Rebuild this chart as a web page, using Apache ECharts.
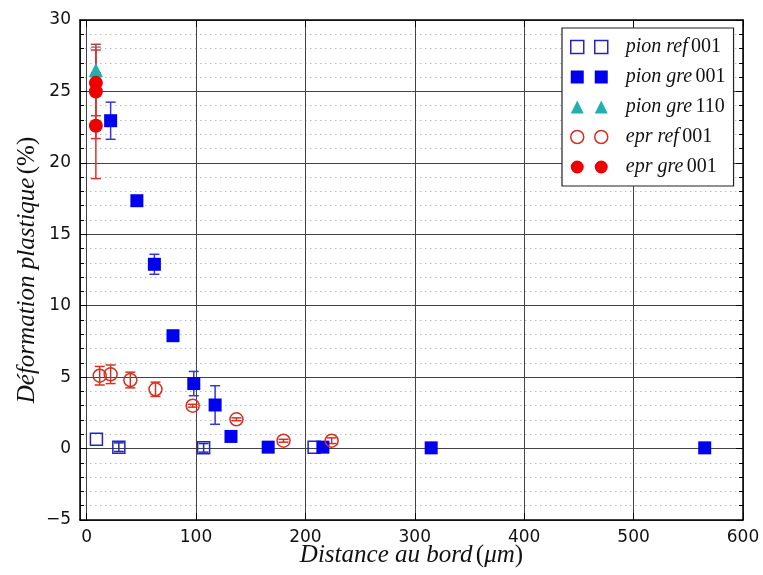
<!DOCTYPE html>
<html>
<head>
<meta charset="utf-8">
<script src="https://cdn.jsdelivr.net/npm/echarts@6/dist/echarts.min.js"></script>
<style>
html,body{margin:0;padding:0;background:#fff;}
#chart{width:763px;height:575px;}
</style>
</head>
<body>
<div id="chart"></div>
<script>
// ---- data ----
const xTicks = [0, 100, 200, 300, 400, 500, 600];
const yTicks = [-5, 0, 5, 10, 15, 20, 25, 30];

const pionRefX = [9, 29.5, 107, 208];
const pionRefY = [0.65, 0.1, 0.05, 0.1];
const pionRefErr = [0, 0.3, 0.3, 0];

const pionGre001X = [22, 46, 62, 79, 98, 117.5, 132, 166, 216, 315, 565];
const pionGre001Y = [22.95, 17.35, 12.9, 7.9, 4.55, 3.05, 0.85, 0.1, 0.1, 0.05, 0.05];
const pionGre001Err = [1.3, 0.2, 0.7, 0.3, 0.85, 1.35, 0.3, 0.2, 0.2, 0, 0];

const pionGre110X = [8.5];
const pionGre110Y = [26.5];
const pionGre110Err = [1.6];

const eprRefX = [12, 22, 40, 63, 97, 137, 180, 224];
const eprRefY = [5.1, 5.2, 4.8, 4.15, 3.0, 2.05, 0.55, 0.55];
const eprRefErr = [0.65, 0.65, 0.55, 0.5, 0.1, 0.1, 0.1, 0.2];

const eprGreX = [8.5, 8.5, 8.5];
const eprGreY = [25.6, 25.0, 22.6];
const eprGreErr = [2.3, 3.3, 3.7];

const seriesNames = [
  ['pion ref', '001'],
  ['pion gre', '001'],
  ['pion gre', '110'],
  ['epr ref', '001'],
  ['epr gre', '001']
];

// ---- helpers ----
function pts(xs, ys) { return xs.map((x, i) => [x, ys[i]]); }
function errPts(xs, ys, es) {
  return xs.map((x, i) => [x, ys[i] - es[i], ys[i] + es[i]]).filter((d, i) => es[i] > 0);
}
function errSeries(data, color, z) {
  return {
    type: 'custom',
    silent: true,
    z: z,
    encode: { x: 0, y: [1, 2] },
    data: data,
    renderItem: function (params, api) {
      const x = api.value(0), lo = api.value(1), hi = api.value(2);
      const p1 = api.coord([x, lo]), p2 = api.coord([x, hi]);
      const w = 5;
      const st = { stroke: color, lineWidth: 1.5 };
      return {
        type: 'group',
        children: [
          { type: 'line', shape: { x1: p1[0], y1: p1[1], x2: p2[0], y2: p2[1] }, style: st },
          { type: 'line', shape: { x1: p1[0] - w, y1: p1[1], x2: p1[0] + w, y2: p1[1] }, style: st },
          { type: 'line', shape: { x1: p2[0] - w, y1: p2[1], x2: p2[0] + w, y2: p2[1] }, style: st }
        ]
      };
    }
  };
}

const blueOpen = '#2424c0';
const blueFill = '#0000f0';
const teal = '#1fb0b0';
const redOpen = '#d83020';
const redFill = '#ee0000';

const sqPath = 'path://M0,0H13V13H0Z M24,0H37V13H24Z';
const triPath = 'path://M6.5,0L13,13H0Z M30.5,0L37,13H24Z';
const circPath = 'path://M0,6.5A6.5,6.5 0 1,0 13,6.5A6.5,6.5 0 1,0 0,6.5Z M24,6.5A6.5,6.5 0 1,0 37,6.5A6.5,6.5 0 1,0 24,6.5Z';

const labelName = n => n[0] + ' ' + n[1];

const chart = echarts.init(document.getElementById('chart'));

const richTitle = {
  i: { fontFamily: 'Liberation Serif', fontStyle: 'italic', fontSize: 25, color: '#111' },
  n: { fontFamily: 'Liberation Serif', fontSize: 25, color: '#111' }
};

const option = {
  animation: false,
  backgroundColor: '#fff',
  grid: { left: 80, right: 20, top: 20, bottom: 55, show: false, containLabel: false, outerBoundsMode: 'none' },
  legend: {
    orient: 'vertical',
    left: 562, top: 28,
    padding: [9, 8, 9, 8],
    itemGap: 10,
    itemWidth: 37, itemHeight: 13,
    backgroundColor: '#fff',
    borderColor: '#222', borderWidth: 1.2, borderRadius: 0,
    selectedMode: false,
    data: [
      { name: labelName(seriesNames[0]), icon: sqPath, itemStyle: { color: 'rgba(0,0,0,0)', borderColor: blueOpen, borderWidth: 1.5 } },
      { name: labelName(seriesNames[1]), icon: sqPath, itemStyle: { color: blueFill, borderWidth: 0 } },
      { name: labelName(seriesNames[2]), icon: triPath, itemStyle: { color: teal, borderWidth: 0 } },
      { name: labelName(seriesNames[3]), icon: circPath, itemStyle: { color: 'rgba(0,0,0,0)', borderColor: redOpen, borderWidth: 1.5 } },
      { name: labelName(seriesNames[4]), icon: circPath, itemStyle: { color: redFill, borderWidth: 0 } }
    ],
    formatter: function (name) {
      const parts = name.split(' ');
      return '{i|' + parts[0] + ' ' + parts[1] + '} {n|' + parts[2] + '}';
    },
    textStyle: {
      padding: [0, 0, 0, 13],
      lineHeight: 20,
      rich: {
        i: { fontFamily: 'Liberation Serif', fontStyle: 'italic', fontSize: 20, color: '#111' },
        n: { fontFamily: 'Liberation Serif', fontSize: 20, color: '#111' }
      }
    }
  },
  xAxis: [{
    type: 'value', min: -6, max: 600, splitNumber: 6,
    name: '{i|Distance au bord} {n|(}{i|μm}{n|)}',
    nameLocation: 'middle', nameGap: 23, nameMoveOverlap: false,
    nameTextStyle: { rich: richTitle },
    axisLine: { show: true, onZero: false, lineStyle: { color: '#000', width: 1.5 } },
    axisTick: { show: true, inside: true, length: 7, lineStyle: { color: '#000' } },
    axisLabel: {
      showMinLabel: false, margin: 9,
      fontFamily: 'DejaVu Sans', fontSize: 17, color: '#111',
      formatter: v => (xTicks.indexOf(v) >= 0 ? String(v) : '')
    },
    splitLine: { show: true, lineStyle: { color: '#444', width: 1 } }
  }, {
    type: 'value', min: -6, max: 600, splitNumber: 6, position: 'top',
    axisLine: { show: true, onZero: false, lineStyle: { color: '#000', width: 1.5 } },
    axisTick: { show: true, inside: true, length: 7, lineStyle: { color: '#000' } },
    axisLabel: { show: false },
    splitLine: { show: false }
  }],
  yAxis: [{
    type: 'value', min: yTicks[0], max: yTicks[yTicks.length - 1], interval: 5,
    name: '{i|Déformation plastique} {n|(%)}',
    nameLocation: 'middle', nameGap: 40, nameMoveOverlap: false,
    nameTextStyle: { rich: richTitle },
    axisLine: { show: true, onZero: false, lineStyle: { color: '#000', width: 1.5 } },
    axisTick: { show: true, inside: true, length: 7, lineStyle: { color: '#000' } },
    minorTick: { show: true, splitNumber: 5, length: 4, lineStyle: { color: '#000' } },
    axisLabel: {
      margin: 9, fontFamily: 'DejaVu Sans', fontSize: 17, color: '#111',
      formatter: v => (v < 0 ? '\u2212' + Math.abs(v) : String(v))
    },
    splitLine: { show: true, lineStyle: { color: '#444', width: 1 } },
    minorSplitLine: { show: true, lineStyle: { color: '#bbb', width: 1, type: [1.5, 3.5] } }
  }, {
    type: 'value', min: yTicks[0], max: yTicks[yTicks.length - 1], interval: 5, position: 'right',
    axisLine: { show: true, onZero: false, lineStyle: { color: '#000', width: 1.5 } },
    axisTick: { show: true, inside: true, length: 7, lineStyle: { color: '#000' } },
    minorTick: { show: true, splitNumber: 5, length: 4, lineStyle: { color: '#000' } },
    axisLabel: { show: false },
    splitLine: { show: false }
  }],
  series: [
    errSeries(errPts(pionRefX, pionRefY, pionRefErr), blueOpen, 2),
    errSeries(errPts(pionGre001X, pionGre001Y, pionGre001Err), '#3535d8', 2),
    errSeries(errPts(pionGre110X, pionGre110Y, pionGre110Err), teal, 2),
    errSeries(errPts(eprRefX, eprRefY, eprRefErr), redOpen, 2),
    errSeries(errPts(eprGreX, eprGreY, eprGreErr), '#e03030', 2),
    {
      name: labelName(seriesNames[0]), type: 'scatter', z: 3,
      symbol: 'rect', symbolSize: 12,
      itemStyle: { color: 'rgba(0,0,0,0)', borderColor: blueOpen, borderWidth: 1.5, opacity: 1 },
      data: pts(pionRefX, pionRefY)
    },
    {
      name: labelName(seriesNames[1]), type: 'scatter', z: 3,
      symbol: 'rect', symbolSize: 13,
      itemStyle: { color: blueFill, opacity: 1 },
      data: pts(pionGre001X, pionGre001Y)
    },
    {
      name: labelName(seriesNames[2]), type: 'scatter', z: 3,
      symbol: 'triangle', symbolSize: 14,
      itemStyle: { color: teal, opacity: 1 },
      data: pts(pionGre110X, pionGre110Y)
    },
    {
      name: labelName(seriesNames[3]), type: 'scatter', z: 3,
      symbol: 'circle', symbolSize: 13,
      itemStyle: { color: 'rgba(0,0,0,0)', borderColor: redOpen, borderWidth: 1.5, opacity: 1 },
      data: pts(eprRefX, eprRefY)
    },
    {
      name: labelName(seriesNames[4]), type: 'scatter', z: 3,
      symbol: 'circle', symbolSize: 14,
      itemStyle: { color: redFill, opacity: 1 },
      data: pts(eprGreX, eprGreY)
    }
  ]
};

chart.setOption(option);
</script>
</body>
</html>
